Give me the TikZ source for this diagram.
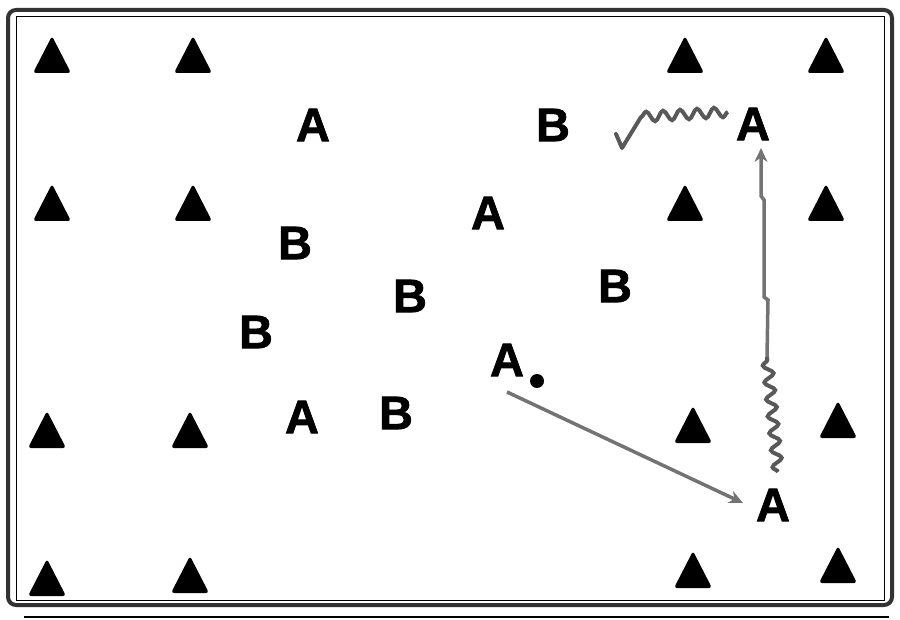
\documentclass[tikz,border=0pt]{standalone}
\usepackage{fontspec}
\newfontfamily\playerfont[FakeBold=1.5]{Liberation Sans Bold}
\usetikzlibrary{arrows.meta,decorations.pathmorphing}

\newcommand\cone[2]{\fill[rounded corners=3pt] ({#1-19},{#2+18}) -- (#1,{#2-19}) -- ({#1+19},{#2+18}) -- cycle ; }

\tikzset{
  player/.style={font=\playerfont\fontsize{47}{47}\selectfont, inner sep=0pt},
  ball/.style={circle, fill=black, inner sep=0pt, minimum size=14pt},
  pass/.style={draw=black!55, line width=3.5pt, -{Stealth[length=14pt,width=13pt]}},
  dribble/.style={draw=black!65, line width=4pt, decorate,
    decoration={snake, amplitude=5pt, segment length=17pt}},
}

\begin{document}
\begin{tikzpicture}[x=1pt, y=-1pt]
	\useasboundingbox (0,0) rectangle (900,620);

	% frame
	\draw [line width=4pt, draw=black!80, rounded corners=8pt] (8,10) rectangle (892,605);
	\draw [thin] (16,16) rectangle (884,600);
	\draw [line width=2pt] (24,617) -- (889,617);

	% cones
	\cone{52}{55}  \cone{193}{55}  \cone{685}{55}  \cone{826}{55}
	\cone{52}{203} \cone{193}{203} \cone{685}{203} \cone{826}{203}
	\cone{47}{430} \cone{190}{430} \cone{693}{425} \cone{838}{420}
	\cone{47}{578} \cone{190}{575} \cone{693}{570} \cone{838}{565}

	% players
	\node[player] (a1) at (313,125) {A};
	\node[player] (b1) at (553,125) {B};
	\node[player] (aTR) at (753,124) {A};
	\node[player] (a2) at (488,213) {A};
	\node[player] (b2) at (295,243) {B};
	\node[player] (b3) at (410,296) {B};
	\node[player] (b4) at (615,286) {B};
	\node[player] (b5) at (256,332) {B};
	\node[player] (aM) at (507,360) {A};
	\node[player] (a3) at (302,417) {A};
	\node[player] (b6) at (396,413) {B};
	\node[player] (aBR) at (773,505) {A};
	\node[ball] (ball) at (537,381) {};

	% pass to bottom right
	\draw [pass] ([shift={(0,32)}]aM.center) -- ([shift={(-30,-2)}]aBR.center);

	% dribble up, then pass to top right
	\coordinate (bend) at (767,357);
	\draw [dribble] ([shift={(5,-33)}]aBR.center) -- (bend);
	\draw [pass] (bend) -- (768,300) -- (764,297) -- (764,200) -- (761,196) -- ([shift={(8,24)}]aTR.center);

	% dribble left
	\coordinate (turn) at (641,117);
	\coordinate (hook) at (622,148);
	\draw [dribble] ([shift={(-25,-12)}]aTR.center) -- (turn);
	\draw [draw=black!65, line width=4pt, line join=round, line cap=round] (turn) -- (hook) -- (616,134);
\end{tikzpicture}
\end{document}
